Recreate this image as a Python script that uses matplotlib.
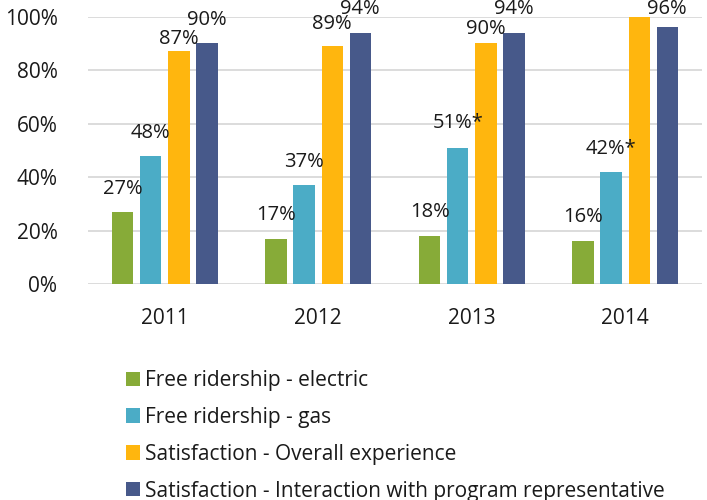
import matplotlib
matplotlib.use("Agg")
import matplotlib.pyplot as plt
import numpy as np

plt.rcParams['font.family'] = ['Open Sans', 'DejaVu Sans']

years = ['2011', '2012', '2013', '2014']
series_names = ['Free ridership - electric', 'Free ridership - gas',
                'Satisfaction - Overall experience',
                'Satisfaction - Interaction with program representative']
electric = [0.27, 0.17, 0.18, 0.16]
gas = [0.48, 0.37, 0.51, 0.42]
overall = [0.87, 0.89, 0.90, 1.00]
interaction = [0.90, 0.94, 0.94, 0.96]
gas_labels = ['48%', '37%', '51%*', '42%*']
overall_labels = ['87%', '89%', '90%', '']

colors = ['#87AB38', '#4BACC6', '#FFB60E', '#47598A']

# label offset above bar top, in pixels
offsets = [
    [23, 24, 24, 24],
    [23, 23, 25, 23],
    [12, 22, 14, 0],
    [23, 24, 24, 18],
]

fig = plt.figure(figsize=(7.07, 5), dpi=100)
ax = fig.add_axes([88/707, 216/500, 614/707, 267.3/500])

x = np.arange(len(years))
step = 0.1826
width = 0.140
all_vals = [electric, gas, overall, interaction]
all_labels = [[f'{round(v*100)}%' for v in electric], gas_labels,
              overall_labels, [f'{round(v*100)}%' for v in interaction]]

fs = 14.5
for i, (vals, labs) in enumerate(zip(all_vals, all_labels)):
    xs = x + (i - 1.5) * step
    ax.bar(xs, vals, width, color=colors[i], label=series_names[i], zorder=3)
    for j in range(len(years)):
        if labs[j] == '':
            continue
        ax.annotate(labs[j], (xs[j], vals[j]), xytext=(0, offsets[i][j]),
                    textcoords='offset pixels', ha='center', va='center',
                    fontsize=fs, color='#1a1a1a', clip_on=False,
                    annotation_clip=False, zorder=4)

ax.set_xlim(-0.5, 3.5)
ax.set_ylim(0, 1)
ax.set_yticks(np.arange(0, 1.01, 0.2))
ax.set_yticklabels([f'{int(round(t*100))}%' for t in np.arange(0, 1.01, 0.2)])
ax.set_xticks(x)
ax.set_xticklabels(years)
ax.tick_params(axis='both', length=0, labelsize=15, colors='#1a1a1a')
ax.tick_params(axis='y', pad=22)
ax.tick_params(axis='x', pad=17)
ax.yaxis.grid(True, color='#d9d9d9', linewidth=1.3, zorder=0)
ax.set_axisbelow(True)
for s in ax.spines.values():
    s.set_visible(False)

fig.legend(loc='upper left', bbox_to_anchor=(126/707, 1 - 370/500),
           frameon=False, fontsize=15, borderpad=0, borderaxespad=0,
           handlelength=0.68, handleheight=0.68, handletextpad=0.25,
           labelspacing=0.76, labelcolor='#1a1a1a')

fig.savefig('out.png', dpi=100)
